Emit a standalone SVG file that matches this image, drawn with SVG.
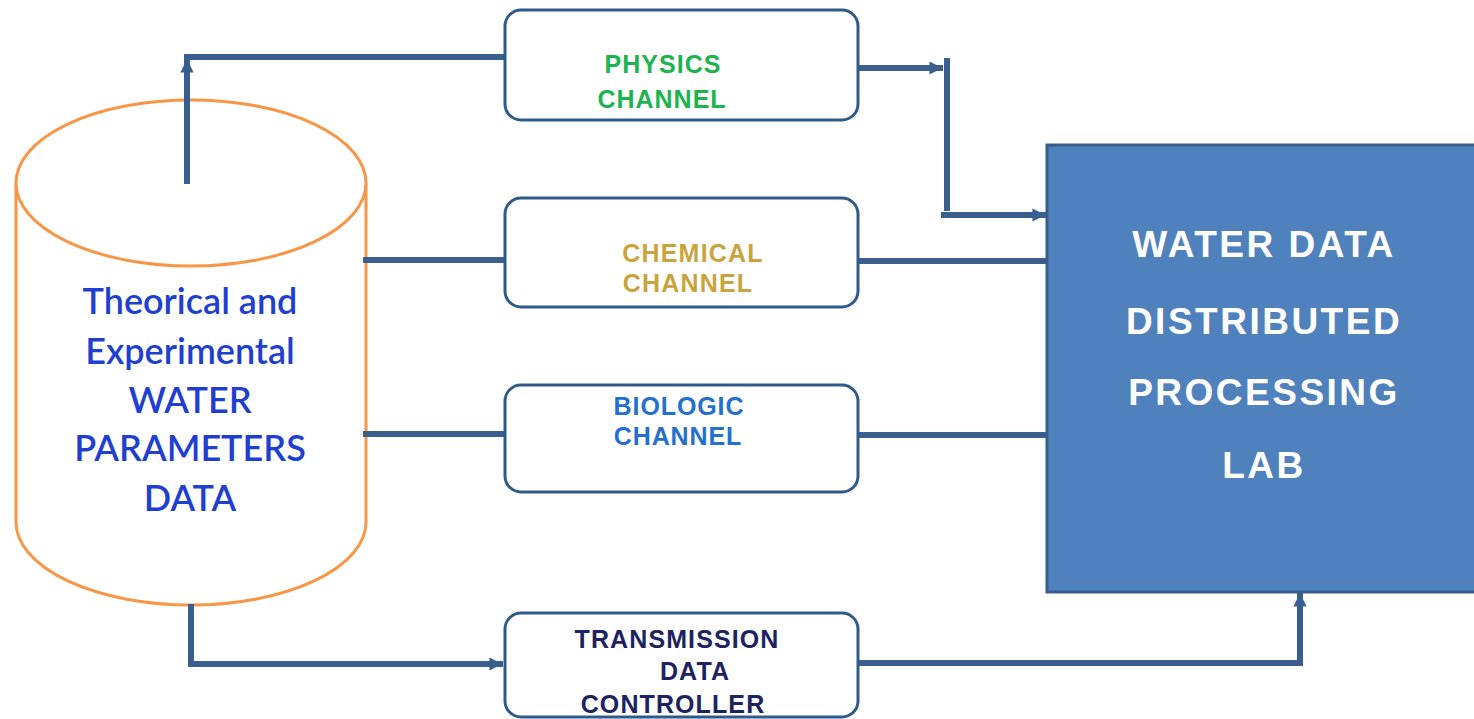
<svg xmlns="http://www.w3.org/2000/svg" width="1474" height="719" viewBox="0 0 1474 719">
<style>
.box{fill:#fff;stroke:#2f5a8a;stroke-width:3}
.conn{fill:none;stroke:#3a5f8e;stroke-width:6;stroke-linecap:square}
.lbl{font-family:"Liberation Sans",Arial,sans-serif;font-weight:bold;text-anchor:middle}
.cyl{font-family:Lato,"Open Sans",sans-serif;font-size:36px;fill:#1f3fd0;text-anchor:middle;font-weight:600}
.lab{font-family:"Liberation Sans",Arial,sans-serif;font-weight:bold;font-size:37px;fill:#fff;text-anchor:middle;letter-spacing:2.5px}
</style>
<defs>
<marker id="ah" viewBox="0 0 10 10" refX="8" refY="5" markerWidth="2.2" markerHeight="2.2" orient="auto" markerUnits="strokeWidth">
<path d="M0,0 L10,5 L0,10 z" fill="#3a5f8e"/>
</marker>
</defs>
<g id="cylinder">
<path d="M16,183 L16,522 A175,83 0 0 0 366,522 L366,183" fill="#fff" stroke="#f79646" stroke-width="3"/>
<ellipse cx="191" cy="183" rx="175" ry="83" fill="#fff" stroke="#f79646" stroke-width="3"/>
<text class="cyl" x="190" y="314">Theorical and</text>
<text class="cyl" x="190" y="364">Experimental</text>
<text class="cyl" x="190" y="413">WATER</text>
<text class="cyl" x="190" y="461">PARAMETERS</text>
<text class="cyl" x="190" y="511">DATA</text>
</g>
<g id="connectors">
<path class="conn" d="M187,181 L187,62" stroke-width="8" marker-end="url(#ah)"/>
<path class="conn" d="M187,57 L505,57"/>
<path class="conn" d="M858,68 L940,68" marker-end="url(#ah)"/>
<path class="conn" d="M947,61 L947,208"/>
<path class="conn" d="M944,215 L1043,215" marker-end="url(#ah)"/>
<path class="conn" d="M366,260 L505,260"/>
<path class="conn" d="M858,261 L1047,261"/>
<path class="conn" d="M366,434 L505,434"/>
<path class="conn" d="M858,435 L1047,435"/>
<path class="conn" d="M191,607 L191,664 L500,664" marker-end="url(#ah)"/>
<path class="conn" d="M858,663 L1300,663 L1300,596" marker-end="url(#ah)"/>
</g>
<g id="physics">
<rect class="box" x="505" y="10" width="353" height="110" rx="16"/>
<text class="lbl" x="663" y="73" font-size="25" fill="#1db34f" letter-spacing="1">PHYSICS</text>
<text class="lbl" x="662" y="108" font-size="25" fill="#1db34f" letter-spacing="1">CHANNEL</text>
</g>
<g id="chemical">
<rect class="box" x="505" y="198" width="353" height="109" rx="16"/>
<text class="lbl" x="693" y="262" font-size="25" fill="#c9a43c" letter-spacing="1.2">CHEMICAL</text>
<text class="lbl" x="688" y="292" font-size="25" fill="#c9a43c" letter-spacing="1.2">CHANNEL</text>
</g>
<g id="biologic">
<rect class="box" x="505" y="385" width="353" height="107" rx="16"/>
<text class="lbl" x="679" y="415" font-size="25" fill="#2470cc" letter-spacing="0.9">BIOLOGIC</text>
<text class="lbl" x="678" y="445" font-size="25" fill="#2470cc" letter-spacing="0.9">CHANNEL</text>
</g>
<g id="transmission">
<rect class="box" x="505" y="613" width="353" height="104" rx="16"/>
<text class="lbl" x="677" y="648" font-size="25" fill="#1c2360" letter-spacing="1.1">TRANSMISSION</text>
<text class="lbl" x="695" y="680" font-size="25" fill="#1c2360" letter-spacing="1.1">DATA</text>
<text class="lbl" x="673" y="713" font-size="25" fill="#1c2360" letter-spacing="1.1">CONTROLLER</text>
</g>
<g id="lab">
<rect x="1047" y="145" width="440" height="447" fill="#4f81bd" stroke="#385d8a" stroke-width="3"/>
<text class="lab" x="1264" y="257">WATER DATA</text>
<text class="lab" x="1264" y="334">DISTRIBUTED</text>
<text class="lab" x="1264" y="405">PROCESSING</text>
<text class="lab" x="1264" y="478">LAB</text>
</g>
</svg>
